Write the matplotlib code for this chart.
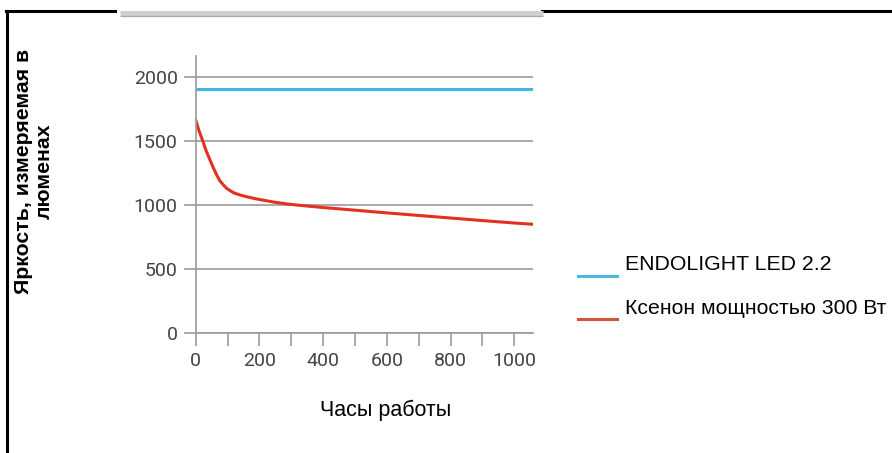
import matplotlib
matplotlib.use("Agg")
import matplotlib.pyplot as plt
from matplotlib.lines import Line2D
from matplotlib.ticker import MultipleLocator

# ---- data ----
series_names = ["ENDOLIGHT LED 2.2", "Ксенон мощностью 300 Вт"]
led_hours = [0, 1059]
led_lumens = [1900, 1900]
xenon_hours = [0, 10, 22, 33, 45, 55, 66, 75, 87, 97, 108, 120, 139, 160, 191, 244, 296, 348,
               400, 500, 600, 700, 800, 900, 1000, 1059]
xenon_lumens = [1662, 1580, 1500, 1420, 1349, 1290, 1232, 1190, 1154, 1128, 1110, 1092, 1076, 1062,
                1045, 1021, 1003, 990, 978, 957, 936, 916, 896, 876, 857, 847]
x_ticks = [0, 200, 400, 600, 800, 1000]
y_ticks = [0, 500, 1000, 1500, 2000]
x_label = "Часы работы"
y_label = "Яркость, измеряемая в\nлюменах"

W, H = 892, 453
fig = plt.figure(figsize=(W / 100, H / 100), dpi=100)
fig.patch.set_facecolor("white")

def fx(px):
    return px / W

def fy(py):
    return 1 - py / H

ax_l, ax_r, ax_b, ax_t = 195.7, 533, 332.7, 56
ax = fig.add_axes([fx(ax_l), fy(ax_b), fx(ax_r - ax_l), (ax_b - ax_t) / H])
ax.set_xlim(0, 1059)
ax.set_ylim(0, (ax_b - ax_t) / 0.128)

grid_c = "#9a9a9a"
for s in ["top", "right"]:
    ax.spines[s].set_visible(False)
for s in ["left", "bottom"]:
    ax.spines[s].set_color(grid_c)
    ax.spines[s].set_linewidth(1.2)

ax.set_yticks(y_ticks)
ax.set_xticks(x_ticks)
ax.xaxis.set_minor_locator(MultipleLocator(100))
ax.tick_params(axis="y", direction="out", length=9, width=1.2, color=grid_c, pad=4)
ax.tick_params(axis="x", which="both", direction="out", length=9, width=1.2, color=grid_c, pad=5)
for lab in ax.get_xticklabels() + ax.get_yticklabels():
    lab.set_fontfamily("Roboto")
    lab.set_fontsize(14)
    lab.set_color("#444444")
ax.yaxis.grid(True, color=grid_c, linewidth=1.2)
ax.set_axisbelow(True)

ax.plot(led_hours, led_lumens, color="#3fb6e6", linewidth=2.2, solid_capstyle="butt")
ax.plot(xenon_hours, xenon_lumens, color="#e2321f", linewidth=2.2, solid_joinstyle="round")

# axis labels
fig.text(fx(385.5), fy(410), x_label, fontsize=15.5, family="Liberation Sans",
         ha="center", va="center", color="black")
fig.text(fx(34), fy(171), y_label, fontsize=15.3, family="Liberation Sans", fontweight="bold",
         rotation=90, ha="center", va="center", linespacing=1.15, multialignment="center")

# legend (manual)
leg_colors = ["#4cb7e3", "#d0553f"]
leg_line_y = [276, 319]
leg_text_y = [265, 308]
for name, c, ly, ty in zip(series_names, leg_colors, leg_line_y, leg_text_y):
    fig.add_artist(Line2D([fx(578), fx(617)], [fy(ly), fy(ly)], color=c, linewidth=2.2))
    fig.text(fx(625), fy(ty), name, fontsize=15.3, family="Liberation Sans",
             ha="left", va="center", color="black")

# frame
fig.add_artist(Line2D([fx(7), fx(7)], [fy(11), fy(453)], color="black", linewidth=2.2))
fig.add_artist(Line2D([fx(6), fx(115)], [fy(11), fy(11)], color="black", linewidth=2.2))
fig.add_artist(Line2D([fx(542), fx(892)], [fy(11), fy(11)], color="black", linewidth=2.2))
fig.add_artist(Line2D([fx(120), fx(543)], [fy(13.3), fy(13.3)], color="#cfcfcf", linewidth=3.6, solid_capstyle="butt"))
fig.add_artist(Line2D([fx(120), fx(543)], [fy(15.8), fy(15.8)], color="#aaaaaa", linewidth=0.9, solid_capstyle="butt"))

fig.savefig("out.png", dpi=100, facecolor="white")
